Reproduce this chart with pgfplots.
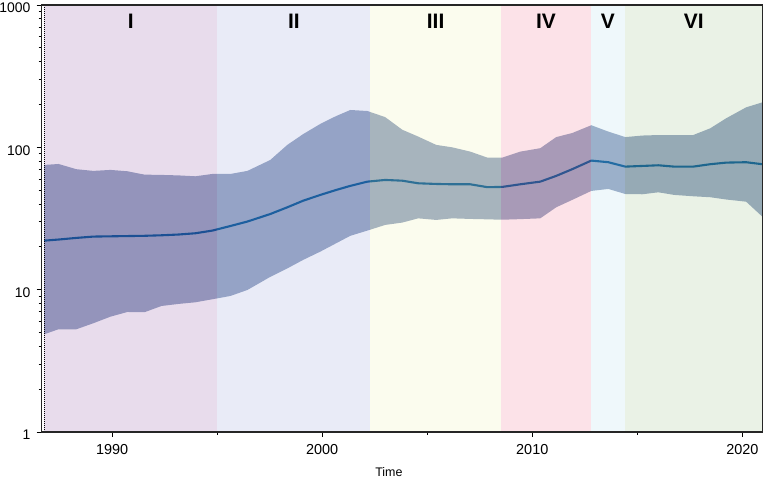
\documentclass[border=0pt]{standalone}
\usepackage{fontspec}
\setmainfont{Liberation Sans}
\usepackage{pgfplots}
\usepackage{pgfplotstable}
\pgfplotsset{compat=1.18}
\usepgfplotslibrary{fillbetween}
\definecolor{bandc}{RGB}{150,166,194}
\definecolor{linec}{RGB}{0,80,145}
\definecolor{rI}{RGB}{140,80,160}
\definecolor{rII}{RGB}{145,155,215}
\definecolor{rIII}{RGB}{235,240,170}
\definecolor{rIV}{RGB}{240,110,140}
\definecolor{rV}{RGB}{175,220,235}
\definecolor{rVI}{RGB}{150,190,130}
\pgfplotstableread{
year lo mean hi
1986.77 4.86 22.1 75.2
1987.45 5.27 22.5 76.4
1988.30 5.27 23.1 70.2
1989.11 5.81 23.6 68.3
1989.92 6.46 23.7 69.4
1990.73 6.97 23.8 67.9
1991.54 6.94 23.9 64.3
1992.35 7.68 24.1 64.0
1993.16 7.94 24.4 63.5
1993.96 8.15 24.9 62.6
1994.77 8.56 26.0 65.0
1995.63 9.03 28.0 65.0
1996.44 9.95 30.1 68.3
1997.53 12.3 34.0 81.5
1998.34 14.1 37.9 104
1999.10 16.2 42.2 124
1999.91 18.5 46.3 146
2000.67 21.2 50.2 166
2001.34 23.9 53.6 183
2002.15 26.0 57.4 180
2003.00 28.5 59.0 163
2003.81 29.6 58.3 133
2004.57 31.7 55.9 119
2005.43 30.9 55.3 104
2006.19 31.7 55.0 100
2007.05 31.4 55.0 93.3
2007.86 31.2 52.5 84.7
2008.57 31.0 52.7 84.7
2009.43 31.3 55.0 93.3
2010.38 31.7 57.4 98.6
2011.14 37.9 63.0 118
2011.90 42.7 70.2 126
2012.81 49.4 80.7 143
2013.62 51.0 78.6 129
2014.43 47.0 73.2 118
2015.24 46.8 74.0 121
2016.00 48.3 74.8 122
2016.76 46.3 73.2 122
2017.66 45.3 73.2 122
2018.47 44.6 76.1 136
2019.23 43.0 78.1 160
2020.18 41.5 78.6 191
2020.95 32.6 76.1 207
}\datatable
\begin{document}
\begin{tikzpicture}
\begin{axis}[
  scale only axis,
  width=720.8bp, height=427bp,
  ymode=log,
  xmin=1986.64, xmax=2020.95,
  ymin=1, ymax=1000,
  xtick={1990,2000,2010,2020},
  xticklabels={1990,2000,2010,2020},
  minor xtick={1995,2005,2015},
  ytick={1,10,100,1000},
  yticklabels={1,10,100,1000},
  minor ytick={2,3,4,5,6,7,8,9,20,30,40,50,60,70,80,90,200,300,400,500,600,700,800,900},
  xtick pos=bottom, ytick pos=left,
  tick align=outside,
  major tick length=5bp, minor tick length=3bp,
  tick style={black, line width=0.8bp},
  axis line style={black!85, line width=1.2bp},
  axis on top,
  /pgf/number format/assume math mode=true,
  ticklabel style={font=\fontsize{14.5}{14.5}\selectfont},
  xticklabel style={yshift=-4bp},
  yticklabel style={inner sep=0pt, xshift=-6bp, yshift=-3bp, font=\fontsize{14}{14}\selectfont},
  xlabel={Time},
  xlabel style={at={(axis description cs:0.482,0)}, anchor=center, yshift=-40bp, font=\fontsize{12.5}{12.5}\selectfont},
]
\addplot[name path=upper, draw=none, forget plot] table[x=year, y=hi] {\datatable};
\addplot[name path=lower, draw=none, forget plot] table[x=year, y=lo] {\datatable};
\addplot[fill=bandc, draw=none] fill between[of=upper and lower];
\addplot[linec, line width=2.1bp, no marks] table[x=year, y=mean] {\datatable};
\addplot[fill=rI, fill opacity=0.2, draw=none] coordinates {(1986.77,1) (1995,1) (1995,1000) (1986.77,1000)} -- cycle;
\addplot[fill=rII, fill opacity=0.2, draw=none] coordinates {(1995,1) (2002.29,1) (2002.29,1000) (1995,1000)} -- cycle;
\addplot[fill=rIII, fill opacity=0.2, draw=none] coordinates {(2002.29,1) (2008.5,1) (2008.5,1000) (2002.29,1000)} -- cycle;
\addplot[fill=rIV, fill opacity=0.2, draw=none] coordinates {(2008.5,1) (2012.79,1) (2012.79,1000) (2008.5,1000)} -- cycle;
\addplot[fill=rV, fill opacity=0.2, draw=none] coordinates {(2012.79,1) (2014.42,1) (2014.42,1000) (2012.79,1000)} -- cycle;
\addplot[fill=rVI, fill opacity=0.2, draw=none] coordinates {(2014.42,1) (2020.95,1) (2020.95,1000) (2014.42,1000)} -- cycle;
\addplot[black, line width=0.8bp, dash pattern=on 1bp off 1bp] coordinates {(1986.77,1) (1986.77,1000)};
\node[font=\fontsize{21}{21}\selectfont\bfseries] at (axis cs:1990.89,772) {I};
\node[font=\fontsize{21}{21}\selectfont\bfseries] at (axis cs:1998.65,772) {II};
\node[font=\fontsize{21}{21}\selectfont\bfseries] at (axis cs:2005.40,772) {III};
\node[font=\fontsize{21}{21}\selectfont\bfseries] at (axis cs:2010.65,772) {IV};
\node[font=\fontsize{21}{21}\selectfont\bfseries] at (axis cs:2013.60,772) {V};
\node[font=\fontsize{21}{21}\selectfont\bfseries] at (axis cs:2017.69,772) {VI};
\end{axis}
\pgfresetboundingbox
\path[use as bounding box] ([shift={(-41.5bp,-48bp)}]current axis.south west) rectangle ([shift={(2.7bp,5bp)}]current axis.north east);
\end{tikzpicture}
\end{document}
